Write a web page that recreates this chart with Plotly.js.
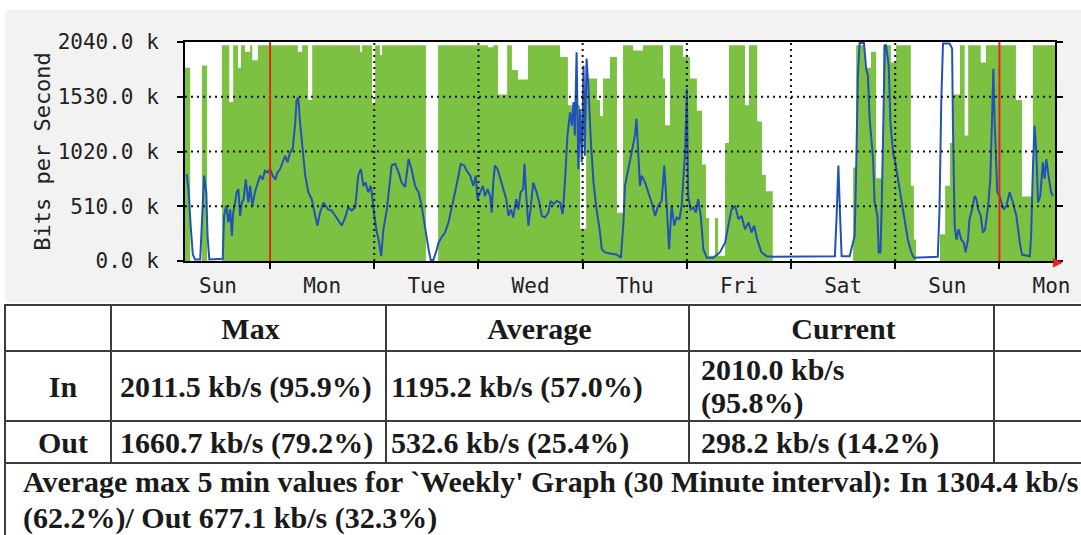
<!DOCTYPE html>
<html>
<head>
<meta charset="utf-8">
<script src="https://cdn.plot.ly/plotly-3.0.1.min.js"></script>
<style>
  html, body { margin: 0; padding: 0; background: #fff; width: 1081px; height: 535px; overflow: hidden; }
  #frame { position: absolute; left: 5px; top: 10px; width: 1076px; height: 292px; background: #f2f2f2; }
  #graph { position: absolute; left: 0; top: 0; width: 1081px; height: 300px; }
  table.stats {
    position: absolute; left: 4px; top: 304px;
    border-collapse: collapse; table-layout: fixed; width: 1112px;
    font-family: "Liberation Serif", "DejaVu Serif", serif;
    font-weight: bold; font-size: 30px; color: #1a1a1a;
  }
  table.stats td { border: 2px solid #3c3c3c; padding: 0 4px 0 8px; line-height: 33px; white-space: nowrap; }
  table.stats tr.head td { height: 44px; text-align: center; }
  table.stats tr.rin td { height: 68px; }
  table.stats tr.rout td { height: 40px; }
  table.stats td.lab { text-align: center; padding: 0 0 0 10px; }
  table.stats td.note { border-right: none; border-bottom: none; line-height: 36px; padding: 0 10px 0 17px; vertical-align: top; }
</style>
</head>
<body>
<div id="frame"></div>
<div id="graph"></div>
<table class="stats">
  <colgroup>
    <col style="width:106px"><col style="width:275px"><col style="width:303px"><col style="width:305px"><col style="width:123px">
  </colgroup>
  <tr class="head"><td></td><td>Max</td><td>Average</td><td>Current</td><td></td></tr>
  <tr class="rin"><td class="lab">In</td><td>2011.5 kb/s (95.9%)</td><td style="padding-left:4px">1195.2 kb/s (57.0%)</td><td style="padding-left:11px">2010.0 kb/s<br>(95.8%)</td><td></td></tr>
  <tr class="rout"><td class="lab">Out</td><td>1660.7 kb/s (79.2%)</td><td style="padding-left:4px">532.6 kb/s (25.4%)</td><td style="padding-left:11px">298.2 kb/s (14.2%)</td><td></td></tr>
  <tr><td class="note" colspan="5">Average max 5 min values for `Weekly' Graph (30 Minute interval): In 1304.4 kb/s<br>(62.2%)/ Out 677.1 kb/s (32.3%)</td></tr>
</table>
<script>
// hours measured from the first Monday 00:00 (left red line)
var dayNames = ["Sun", "Mon", "Tue", "Wed", "Thu", "Fri", "Sat", "Sun", "Mon"];
var labelHours = [-12, 12, 36, 60, 84, 108, 132, 156, 180];
var dayStarts = [24, 48, 72, 96, 120, 144];
var weekStarts = [0, 168];
var yTicks = [0, 510, 1020, 1530, 2040];
var yTickText = ["0.0 k", "510.0 k", "1020.0 k", "1530.0 k", "2040.0 k"];
var gridLevels = [510, 1020, 1530];

// In traffic (kb/s), step values starting at each hour mark
var inHours = [-19.6, -18.4, -15.7, -14.5, -11.1, -9.4, -8.5, -7.4, -6.7, -5.8, -4.6, -4.1, -2.8,
  6.4, 7.4, 8.75, 9.7, 20.7, 21.2, 23.5, 24.2, 25.3, 25.8, 35.9, 38.7, 50.2, 51.4, 52.5, 54.6,
  55.7, 57.1, 59.4, 66.8, 68.6, 71.4, 72.8, 75.3, 76.0, 76.7, 78.3, 79.9, 81.3, 83.6, 85.9,
  90.5, 91.0, 92.1, 95.1, 96.7, 98.3, 99.5, 100.4, 101.1, 102.5, 103.2, 104.8, 105.7, 109.4,
  110.3, 112.2, 113.3, 114.2, 115.8, 134.3, 135.0, 137.0, 138.4, 139.6, 141.2, 143.0, 144.2,
  147.6, 148.3, 148.8, 154.3, 155.5, 156.6, 157.3, 158.9, 160.0, 160.8, 163.7, 164.9, 171.8,
  173.2, 175.7, 180.8];
var inKbps = [1800, 0, 1820, 0, 2010, 1480, 2010, 1800, 2010, 1950, 2010, 1870, 2010,
  1950, 2010, 1500, 2010, 1950, 2010, 1470, 2010, 1920, 2010, 0, 2010, 1990, 2010, 1550, 2010,
  1780, 1690, 2010, 1900, 1450, 300, 1700, 1500, 1350, 1700, 1900, 450, 2010, 1960, 2010,
  1700, 1265, 2010, 1900, 1700, 1400, 900, 400, 50, 400, 50, 1100, 2010, 1450,
  2010, 1300, 800, 650, 0, 870, 2010, 1800, 1950, 770, 2010, 1850, 2010,
  700, 200, 0, 250, 700, 1100, 1550, 2010, 1170, 2010, 1850, 2010, 1500,
  600, 2010, 2010];

// Out traffic (kb/s)
var outHours = [-19.2, -18.8, -18.3, -17.8, -17.3, -16.1, -15.7, -15.2, -14.7, -14.4, -14.0, -10.9,
  -10.6, -10.1, -9.6, -9.2, -8.8, -8.5, -8.1, -7.7, -7.3, -6.9, -6.5, -6.1, -5.6, -5.0, -4.6,
  -4.1, -3.5, -2.9, -2.3, -1.7, -1.2, -0.6, 0.0, 0.6, 1.2, 1.7, 2.3, 2.9, 3.5, 4.0, 4.6, 5.2,
  5.8, 6.1, 6.5, 6.9, 7.5, 8.1, 8.8, 9.6, 10.4, 10.9, 11.5, 12.3, 12.8, 13.4, 14.2, 15.0, 15.7,
  16.5, 17.3, 18.0, 18.8, 19.6, 20.3, 20.9, 21.5, 22.0, 22.6, 23.2, 23.6, 24.0, 24.6, 25.0,
  25.6, 26.1, 26.9, 27.5, 28.0, 28.8, 29.6, 30.3, 31.1, 31.9, 32.6, 33.4, 34.2, 34.9, 35.7,
  36.5, 37.0, 37.6, 38.2, 38.8, 39.5, 40.3, 41.1, 41.8, 42.6, 43.4, 43.9, 44.7, 45.3, 46.1,
  46.8, 47.4, 47.75, 48.4, 49.0, 49.5, 50.1, 50.7, 51.05, 51.4, 51.8, 52.4, 53.0, 53.7, 54.4,
  54.9, 55.5, 56.0, 56.7, 57.2, 57.7, 58.3, 58.6, 59.0, 59.5, 60.0, 60.6, 61.4, 62.0, 62.6,
  63.3, 64.1, 64.6, 65.3, 66.0, 66.8, 67.4, 67.9, 68.5, 69.1, 69.5, 69.9, 70.2, 70.6, 71.0,
  71.4, 71.8, 72.2, 72.5, 72.9, 73.3, 73.9, 74.5, 75.2, 75.9, 76.4, 77.2, 78.3, 79.8, 80.8,
  81.4, 81.75, 82.5, 83.3, 84.05, 84.4, 84.8, 85.2, 85.6, 86.4, 87.1, 87.9, 88.7, 89.4, 90.2,
  90.8, 91.35, 91.9, 92.5, 93.1, 93.65, 94.3, 94.8, 95.2, 95.6, 96.0, 96.3, 96.9, 97.5, 98.1,
  98.6, 99.2, 99.8, 100.6, 102.1, 103.6, 104.8, 105.55, 106.3, 107.1, 107.9, 108.6, 109.4,
  110.2, 110.9, 111.5, 112.2, 113.2, 114.4, 115.9, 129.7, 130.1, 130.5, 130.9, 131.3, 131.65,
  133.5, 134.0, 134.65, 135.0, 135.4, 135.8, 136.8, 137.3, 137.7, 138.1, 138.9, 139.25, 139.9,
  140.2, 140.6, 140.9, 141.25, 141.6, 141.9, 142.5, 142.9, 143.5, 144.0, 144.6, 145.4, 146.2,
  146.9, 147.7, 148.3, 153.8, 154.2, 154.6, 155.0, 156.5, 157.1, 157.3, 157.7, 158.1, 158.6,
  159.2, 159.8, 160.2, 160.75, 161.1, 161.7, 162.3, 162.7, 163.1, 163.7, 164.2, 164.7, 165.4,
  165.9, 166.3, 166.6, 166.9, 167.5, 168.0, 168.4, 169.0, 169.6, 170.35, 171.1, 171.9, 172.7,
  173.2, 175.0, 175.3, 175.7, 176.1, 176.5, 176.9, 177.4, 178.0, 178.4, 178.8, 179.3, 179.9,
  180.3];
var outKbps = [810, 670, 330, 60, 15, 15, 360, 795, 640, 230, 15, 20,
  420, 515, 360, 480, 235, 450, 530, 640, 670, 420, 545, 575, 760, 545, 700,
  515, 640, 730, 795, 760, 840, 825, 855, 795, 760, 825, 855, 920, 980, 920, 1010, 1045,
  1290, 1495, 1525, 1290, 1045, 795, 640, 575, 420, 330, 450, 545, 515, 480, 470, 420, 375,
  330, 405, 500, 470, 500, 795, 855, 700, 730, 640, 700, 575, 420, 265, 200,
  45, 295, 480, 700, 890, 905, 825, 730, 690, 950, 855, 700, 640, 515, 295,
  110, 10, 10, 80, 170, 220, 265, 360, 480, 640, 795, 905, 890, 840, 795,
  700, 795, 575, 640, 700, 605, 670, 605, 450, 730, 890, 855, 765, 670, 575,
  420, 480, 405, 575, 480, 640, 670, 905, 605, 330, 480, 730, 640, 545, 420,
  405, 450, 560, 530, 560, 545, 435, 730, 1170, 1385, 1260, 1480, 1170, 1945, 855,
  1415, 920, 1820, 980, 1885, 1635, 1105, 730, 480, 295, 110, 80, 70, 60, 30,
  360, 700, 855, 1010, 1170, 1325, 1010, 700, 795, 730, 640, 545, 420, 515, 560,
  890, 515, 110, 515, 330, 405, 390, 515, 795, 1010, 1605, 605, 480, 500, 450,
  575, 420, 110, 30, 30, 80, 170, 330, 480, 515, 390, 420, 295,
  360, 265, 330, 200, 80, 45, 40, 40, 45, 420, 890, 420, 45,
  45, 140, 235, 855, 1730, 2030, 2030, 1790, 1730, 1325, 950, 545, 420,
  80, 80, 545, 1420, 2010, 2010, 1820, 1290, 1010, 920, 765, 545, 360,
  200, 80, 30, 40, 480, 1480, 2025, 2025, 1980, 1230, 330, 200, 295,
  200, 170, 80, 200, 390, 480, 605, 575, 480, 420, 265, 295, 515,
  765, 1325, 1790, 1290, 640, 605, 545, 480, 515, 640, 545, 420, 170,
  60, 45, 235, 855, 1260, 1010, 545, 605, 920, 765, 950, 795, 640,
  605];

var monoFont = "DejaVu Sans Mono, Liberation Mono, monospace";

function vline(x, color, dash) {
  return {
    type: "line", xref: "x", yref: "paper", x0: x, x1: x, y0: 0, y1: 1,
    layer: "above", line: { color: color, width: 2, dash: dash }
  };
}

function hline(y) {
  return {
    type: "line", xref: "paper", yref: "y", x0: 0, x1: 1, y0: y, y1: y,
    layer: "above", line: { color: "#111", width: 2, dash: "2px,4px" }
  };
}

var shapes = [];
gridLevels.forEach(function (v) { shapes.push(hline(v)); });
dayStarts.forEach(function (h) { shapes.push(vline(h, "#111", "2px,4px")); });
weekStarts.forEach(function (h) { shapes.push(vline(h, "#e8231a", "solid")); });

var traces = [
  {
    x: inHours, y: inKbps, type: "scatter", mode: "lines",
    line: { shape: "hv", width: 0, color: "#7cc142" },
    fill: "tozeroy", fillcolor: "#7cc142", hoverinfo: "skip"
  },
  {
    x: outHours, y: outKbps, type: "scatter", mode: "lines",
    line: { color: "#2052b8", width: 2 }, hoverinfo: "skip"
  }
];

var layout = {
  width: 1081, height: 300,
  margin: { l: 185, r: 26, t: 42, b: 39 },
  paper_bgcolor: "rgba(0,0,0,0)",
  plot_bgcolor: "#ffffff",
  showlegend: false,
  font: { family: monoFont, size: 21, color: "#222" },
  xaxis: {
    range: [-19.6, 180.8], fixedrange: true,
    tickmode: "array", tickvals: labelHours, ticktext: dayNames,
    ticks: "", showgrid: false, zeroline: false,
    showline: true, linecolor: "#000", linewidth: 2, mirror: true,
    ticklabelstandoff: 5,
    minor: { tick0: 0, dtick: 24, ticks: "outside", ticklen: 6, tickwidth: 2, tickcolor: "#000", showgrid: false }
  },
  yaxis: {
    range: [0, 2040], fixedrange: true,
    tickmode: "array", tickvals: yTicks, ticktext: yTickText,
    ticks: "outside", ticklen: 6, tickwidth: 2, tickcolor: "#000",
    showgrid: false, zeroline: false,
    showline: true, linecolor: "#000", linewidth: 2, mirror: "ticks",
    ticklabelstandoff: 14
  },
  shapes: shapes,
  annotations: [
    {
      text: "Bits per Second", xref: "paper", yref: "paper",
      x: -0.164, y: 0.5, xanchor: "center", yanchor: "middle", textangle: -90, showarrow: false,
      font: { family: monoFont, size: 22, color: "#222" }
    },
    {
      text: "\u25B6", xref: "paper", yref: "y", x: 1, y: 0,
      xanchor: "left", yanchor: "middle", xshift: -4, showarrow: false,
      font: { size: 16, color: "#e8231a" }
    }
  ]
};

Plotly.newPlot("graph", traces, layout, { staticPlot: true, displayModeBar: false });
</script>
</body>
</html>
